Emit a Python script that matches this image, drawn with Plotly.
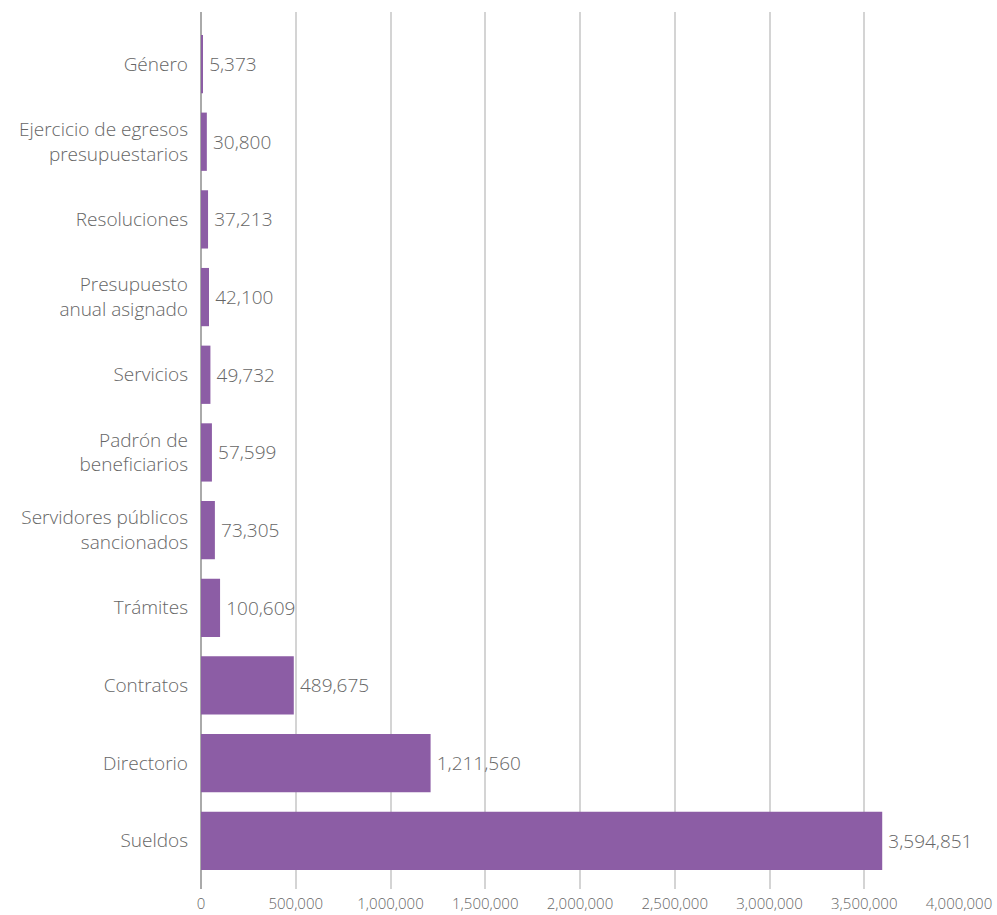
import plotly.graph_objects as go

categories = ["Sueldos", "Directorio", "Contratos", "Trámites",
              "Servidores públicos<br>sancionados", "Padrón de<br>beneficiarios",
              "Servicios", "Presupuesto<br>anual asignado", "Resoluciones",
              "Ejercicio de egresos<br>presupuestarios", "Género"]
values = [3594851, 1211560, 489675, 100609, 73305, 57599, 49732, 42100, 37213, 30800, 5373]
tick_vals = [0, 500000, 1000000, 1500000, 2000000, 2500000, 3000000, 3500000, 4000000]
tick_text = ["0", "500,000", "1,000,000", "1,500,000", "2,000,000", "2,500,000",
             "3,000,000", "3,500,000", "4,000,000"]

font_family = "'Open Sans', Lato, sans-serif"
text_color = "#666666"

fig = go.Figure(go.Bar(
    x=values, y=list(range(len(categories))), orientation="h",
    marker=dict(color="#8C5DA5", line=dict(width=0)),
    text=[f"\u2009{v:,}" for v in values], textposition="outside",
    textfont=dict(family=font_family, size=19, color=text_color, weight=300),
    cliponaxis=False,
))

fig.update_layout(
    width=997, height=915,
    margin=dict(l=201, r=38, t=12, b=26),
    paper_bgcolor="white", plot_bgcolor="white",
    bargap=0.25,
    showlegend=False,
    font=dict(family=font_family, color=text_color, weight=300),
)
fig.update_xaxes(
    range=[0, 4000000], tickvals=tick_vals, ticktext=tick_text,
    showgrid=True, gridcolor="#d4d4d4", gridwidth=2,
    zeroline=True, zerolinecolor="#aaaaaa", zerolinewidth=2,
    tickfont=dict(family=font_family, size=15, color=text_color, weight=300),
    ticklabelstandoff=4, automargin=False,
)
fig.update_yaxes(
    range=[-0.62, 10.67],
    tickvals=list(range(len(categories))), ticktext=categories,
    showgrid=False, zeroline=False,
    tickfont=dict(family=font_family, size=19, color=text_color, weight=300),
    ticklabelstandoff=12, automargin=False,
)

fig.write_html(
    "out.html",
    config={"displayModeBar": False},
    post_script="document.body.style.margin='0';document.body.style.overflow='hidden';",
)
